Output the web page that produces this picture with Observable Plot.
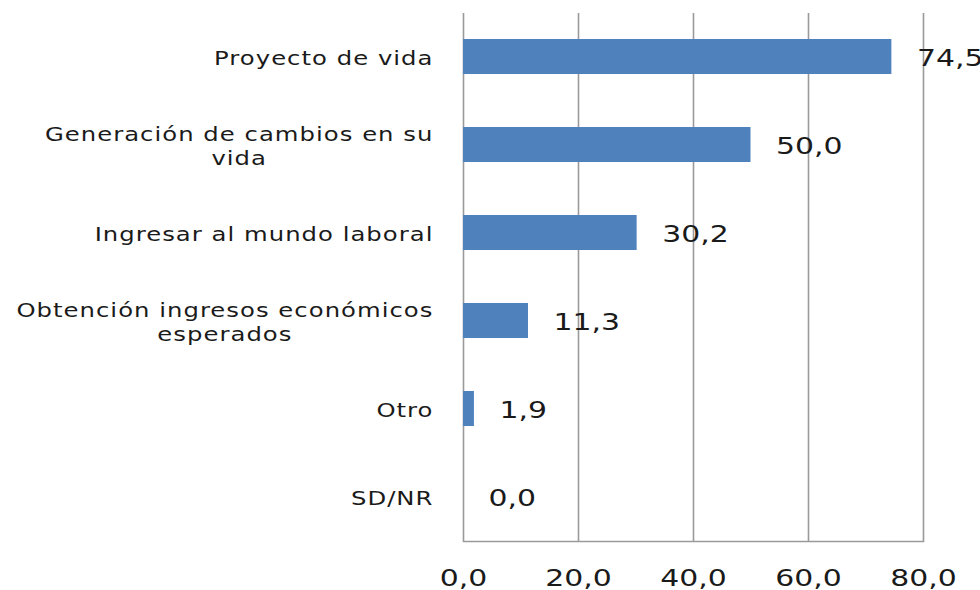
<!DOCTYPE html>
<html>
<head>
<meta charset="utf-8">
<script src="https://cdn.jsdelivr.net/npm/d3@7"></script>
<script src="https://cdn.jsdelivr.net/npm/@observablehq/plot@0.6"></script>
<style>
  html, body { margin: 0; padding: 0; background: #fff; overflow: hidden; }
  #chart svg { overflow: visible; }
  #chart g[font-size="19"] text { letter-spacing: 0.8px; }
</style>
</head>
<body>
<div id="chart"></div>
<script>
const categories = [
  "Proyecto de vida",
  "Generación de cambios en su vida",
  "Ingresar al mundo laboral",
  "Obtención ingresos económicos esperados",
  "Otro",
  "SD/NR"
];
const labelLines = [
  ["Proyecto de vida"],
  ["Generación de cambios en su", "vida"],
  ["Ingresar al mundo laboral"],
  ["Obtención ingresos económicos", "esperados"],
  ["Otro"],
  ["SD/NR"]
];
const values = [74.5, 50.0, 30.2, 11.3, 1.9, 0.0];
const xTicks = [0, 20, 40, 60, 80];

const fmt = v => v.toFixed(1).replace(".", ",");
const data = categories.map((c, i) => ({cat: c, value: values[i], label: labelLines[i].join("\n")}));

// horizontal glyph stretch per font size (the reference font is wide)
const catFont = 19, catSpacing = 0.8, catStretch = 1.28;
const numFont = 23, numStretch = 1.3;
const stretch = {[catFont]: catStretch, [numFont]: numStretch};

const ctx = document.createElement("canvas").getContext("2d");
ctx.font = `${catFont}px "DejaVu Sans"`;
const textWidth = s => (ctx.measureText(s).width + catSpacing * s.length) * catStretch;

const labelMarks = data.map((d, i) => {
  const w = Math.max(...labelLines[i].map(textWidth));
  return Plot.text([d], {
    x: 0, y: "cat", text: "label",
    textAnchor: "middle", dx: -30 - w / 2,
    fontSize: catFont, lineHeight: 1.3, fill: "#1a1a1a"
  });
});

const chart = Plot.plot({
  width: 980,
  height: 590,
  marginLeft: 463,
  marginRight: 57,
  marginTop: 13,
  marginBottom: 49,
  style: {fontFamily: "DejaVu Sans", background: "#fff", color: "#1a1a1a"},
  x: {domain: [0, 80], axis: null},
  y: {domain: categories, paddingInner: 0.6, paddingOuter: 0.3, axis: null},
  marks: [
    Plot.gridX(xTicks, {stroke: "#9a9a9a", strokeOpacity: 1, strokeWidth: 1.6}),
    Plot.frame({anchor: "bottom", stroke: "#9a9a9a", strokeWidth: 1.6}),
    Plot.barX(data, {x: "value", y: "cat", fill: "#4F81BD"}),
    Plot.text(data, {
      x: "value", y: "cat", text: d => fmt(d.value),
      textAnchor: "start", dx: 25, dy: 2, fontSize: numFont, fill: "#1a1a1a"
    }),
    ...labelMarks,
    Plot.axisX(xTicks, {
      tickSize: 0, tickPadding: 28, fontSize: numFont, label: null,
      tickFormat: fmt, fill: "#1a1a1a"
    })
  ]
});

// stretch glyphs horizontally around each text's anchor point
d3.select(chart).selectAll("g[font-size]").each(function () {
  const s = stretch[this.getAttribute("font-size")];
  if (!s) return;
  d3.select(this).selectAll("text").each(function () {
    const t = this.getAttribute("transform") || "";
    const x = +this.getAttribute("x") || 0, y = +this.getAttribute("y") || 0;
    this.setAttribute("transform", `${t} translate(${x},${y}) scale(${s},1) translate(${-x},${-y})`);
  });
});

document.getElementById("chart").appendChild(chart);
</script>
</body>
</html>
